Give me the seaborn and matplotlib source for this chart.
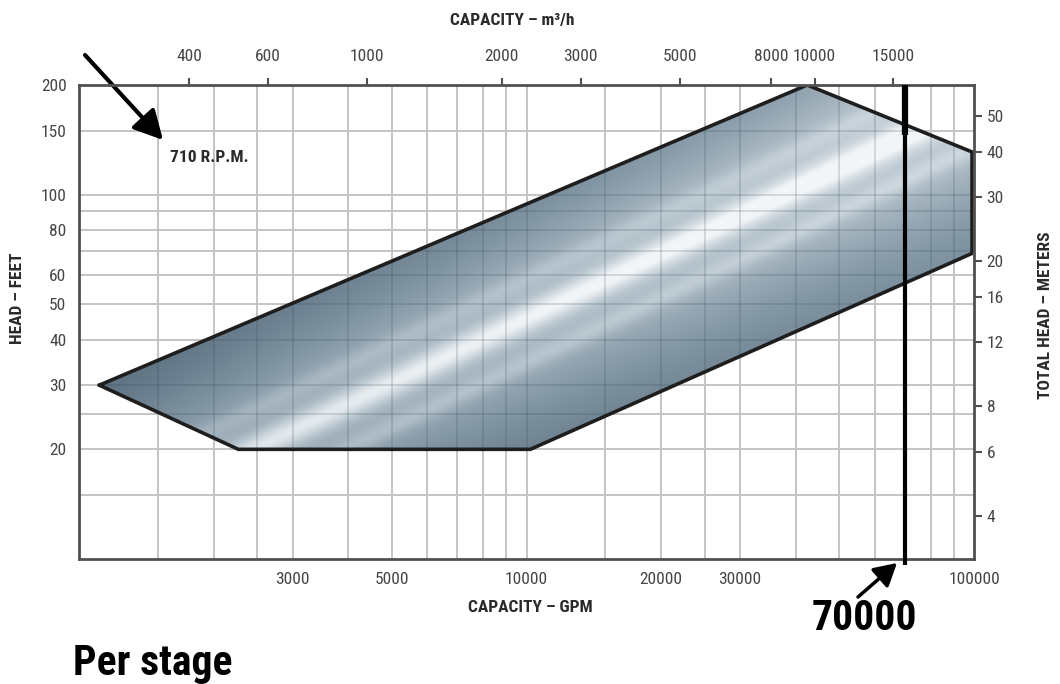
import numpy as np
import matplotlib
matplotlib.use("Agg")
import matplotlib.pyplot as plt
import seaborn as sns
from matplotlib import font_manager
from matplotlib.colors import LinearSegmentedColormap
from matplotlib.patches import Polygon
from matplotlib.image import AxesImage
from matplotlib.ticker import NullLocator

# ---------------- DATA ----------------
# operating envelope at 710 rpm (capacity GPM, head feet)
env_gpm = [1110, 2270, 10200, 99000, 99000, 42400]
env_head_ft = [30, 20, 20, 69, 131, 200]

gpm_ticks = [3000, 5000, 10000, 20000, 30000, 100000]
m3h_ticks = [400, 600, 1000, 2000, 3000, 5000, 8000, 10000, 15000]
feet_ticks = [20, 30, 40, 50, 60, 80, 100, 150, 200]
meter_ticks = [4, 6, 8, 12, 16, 20, 30, 40, 50]

gpm_grid = [1500, 2000, 2500, 3000, 4000, 5000, 6000, 7000, 8000, 9000, 10000,
            15000, 20000, 25000, 30000, 40000, 50000, 60000, 70000, 80000, 90000]
feet_grid = [15, 20, 25, 30, 40, 50, 60, 70, 80, 90, 100, 150]

marker_gpm = 70000
marker_label = "70000"

gpm_range = (1000, 100000)
feet_range = (10, 200)
GPM_TO_M3H = 0.22712
FT_TO_M = 0.3048

# ---------------- STYLE ----------------
sns.set_theme(style="white")
plt.rcParams["font.family"] = ["Liberation Sans", "DejaVu Sans"]

# condensed face for all labels, if one is installed
installed = {f.name for f in font_manager.fontManager.ttflist}
narrow = None
for cand in ["Liberation Sans Narrow", "Roboto Condensed", "Open Sans Condensed",
             "Noto Sans Condensed", "DejaVu Sans Condensed"]:
    if cand in installed:
        narrow = cand
        break
if narrow is not None:
    FAM = [narrow, "Liberation Sans", "DejaVu Sans"]
    BIG_SIZE, TICK_SIZE, TITLE_SIZE = 30, 12.5, 12.5
else:
    FAM = ["Liberation Sans", "DejaVu Sans"]
    BIG_SIZE, TICK_SIZE, TITLE_SIZE = 26, 11, 11

TXT = "#454545"
LBL = "#2a2a2a"
SPINE = "#505050"

W, H = 1060, 684
fig = plt.figure(figsize=(W / 100, H / 100), dpi=100)
ax_l, ax_r_px, ax_t, ax_b = 79, 974, 85, 559
ax = fig.add_axes([ax_l / W, 1 - ax_b / H, (ax_r_px - ax_l) / W, (ax_b - ax_t) / H])


def fpos(x, y):
    return x / W, 1 - y / H


ax.set_xscale("log")
ax.set_yscale("log")

# ---------------- GRID ----------------
for g in gpm_grid:
    ax.axvline(g, color="#c4c4c4", lw=1.4, zorder=0.5)
for g in feet_grid:
    ax.axhline(g, color="#c4c4c4", lw=1.4, zorder=0.5)

# ---------------- METALLIC FILL ----------------
pw, ph = ax_r_px - ax_l, ax_b - ax_t
xx, yy = np.meshgrid(np.arange(pw), np.arange(ph))
p1 = np.array([251.0, 146.0])
p2 = np.array([834.0, 426.0])
d = (p2 - p1) / np.linalg.norm(p2 - p1)
dist = ((xx - p1[0]) * d[1] - (yy - p1[1]) * d[0])
along = ((xx - p1[0]) * d[0] + (yy - p1[1]) * d[1])
shade = (0.42 * np.exp(-(dist / 14) ** 2)
         + 0.50 * np.exp(-(dist / 95) ** 2)
         + 0.16 * np.exp(-((dist - 40) / 10) ** 2)
         + 0.12 * np.exp(-((dist + 36) / 10) ** 2))
shade = shade + 0.2 * np.clip(along / 600, -0.5, 1)
shade = np.clip(shade, 0, 1)

metal = LinearSegmentedColormap.from_list(
    "metal", ["#5b7080", "#8699a7", "#bac7d0", "#f2f5f7"])
im = AxesImage(ax, cmap=metal, extent=(0, 1, 0, 1), origin="lower",
               interpolation="bilinear", transform=ax.transAxes, zorder=1)
im.set_data(shade)
im.set_clim(0, 1)
ax.add_image(im)

env = Polygon(np.column_stack([env_gpm, env_head_ft]), closed=True,
              facecolor="none", edgecolor="none", transform=ax.transData)
ax.add_patch(env)
im.set_clip_path(env)

# grid shows through the fill as slightly darker lines
for g in gpm_grid:
    ax.axvline(g, color="#2f4252", lw=1.2, alpha=0.2, zorder=2).set_clip_path(env)
for g in feet_grid:
    ax.axhline(g, color="#2f4252", lw=1.2, alpha=0.2, zorder=2).set_clip_path(env)

# outline
sns.lineplot(x=env_gpm + env_gpm[:1], y=env_head_ft + env_head_ft[:1],
             sort=False, estimator=None, color="#1e1e1e", linewidth=2.6,
             ax=ax, zorder=4, solid_joinstyle="miter")

ax.set_xlim(gpm_range)
ax.set_ylim(feet_range)

# ---------------- AXES ----------------
ax.set_xticks(gpm_ticks, [str(v) for v in gpm_ticks])
ax.set_yticks(feet_ticks, [str(v) for v in feet_ticks])
ax.xaxis.set_minor_locator(NullLocator())
ax.yaxis.set_minor_locator(NullLocator())
ax.tick_params(axis="x", length=0, pad=9, labelsize=TICK_SIZE, labelcolor=TXT,
               bottom=True, labelbottom=True)
ax.tick_params(axis="y", length=0, pad=9, labelsize=TICK_SIZE, labelcolor=TXT,
               left=True, labelleft=True)
ax.set_xlabel("")
ax.set_ylabel("")
for s in ax.spines.values():
    s.set_color(SPINE)
    s.set_linewidth(2)
    s.set_zorder(6)

top = ax.twiny()
top.set_xscale("log")
top.set_xlim(gpm_range[0] * GPM_TO_M3H, gpm_range[1] * GPM_TO_M3H)
top.set_xticks(m3h_ticks, [str(v) for v in m3h_ticks])
top.xaxis.set_minor_locator(NullLocator())
top.tick_params(axis="x", which="major", top=True, labeltop=True, bottom=False,
                labelbottom=False, direction="out", length=5, width=1.5,
                color=SPINE, pad=10, labelsize=TICK_SIZE, labelcolor=TXT)

right = ax.twinx()
right.set_yscale("log")
right.set_ylim(feet_range[0] * FT_TO_M, feet_range[1] * FT_TO_M)
right.set_yticks(meter_ticks, [str(v) for v in meter_ticks])
right.yaxis.set_minor_locator(NullLocator())
right.tick_params(axis="y", which="major", right=True, labelright=True, left=False,
                  labelleft=False, direction="out", length=6, width=1.5,
                  color=SPINE, pad=3, labelsize=TICK_SIZE, labelcolor=TXT)
for a in (ax, top, right):
    for lab in a.get_xticklabels() + a.get_yticklabels():
        lab.set_family(FAM)
for a in (top, right):
    for s in a.spines.values():
        s.set_visible(False)
    a.grid(False)

# ---------------- MARKER LINE ----------------
ax.plot([marker_gpm, marker_gpm], [feet_range[1], 9.62], color="black", lw=3,
        clip_on=False, zorder=7, solid_capstyle="butt")
ax.plot([marker_gpm, marker_gpm], [feet_range[1], 146], color="black", lw=4.5,
        clip_on=False, zorder=7, solid_capstyle="butt")

# ---------------- TEXT ----------------
TITLE = dict(fontsize=TITLE_SIZE, fontweight="bold", color=LBL, family=FAM,
             va="center")
fig.text(*fpos(512, 20), "CAPACITY – m³/h", ha="center", **TITLE)
fig.text(*fpos(530, 607), "CAPACITY – GPM", ha="center", **TITLE)
fig.text(*fpos(18, 298), "HEAD – FEET", ha="center", rotation=90, **TITLE)
fig.text(*fpos(1045, 315), "TOTAL HEAD – METERS", ha="center", rotation=90, **TITLE)
fig.text(*fpos(170, 157), "710 R.P.M.", ha="left", **TITLE)

fig.text(*fpos(812, 630), marker_label, ha="left", va="baseline",
         fontsize=BIG_SIZE, fontweight="bold", family=FAM, color="black")
fig.text(*fpos(73, 675), "Per stage", ha="left", va="baseline",
         fontsize=BIG_SIZE, fontweight="bold", family=FAM, color="black")

ax.annotate("", xy=fpos(163, 140), xytext=fpos(85, 55),
            xycoords="figure fraction", textcoords="figure fraction",
            arrowprops=dict(arrowstyle="-|>,head_length=0.8,head_width=0.42",
                            lw=3, color="black", mutation_scale=22,
                            shrinkA=0, shrinkB=0))
ax.annotate("", xy=fpos(897, 563), xytext=fpos(858, 597),
            xycoords="figure fraction", textcoords="figure fraction",
            arrowprops=dict(arrowstyle="-|>,head_length=0.8,head_width=0.45",
                            lw=2.5, color="black", mutation_scale=17,
                            shrinkA=0, shrinkB=0))

fig.savefig("out.png", dpi=100)
